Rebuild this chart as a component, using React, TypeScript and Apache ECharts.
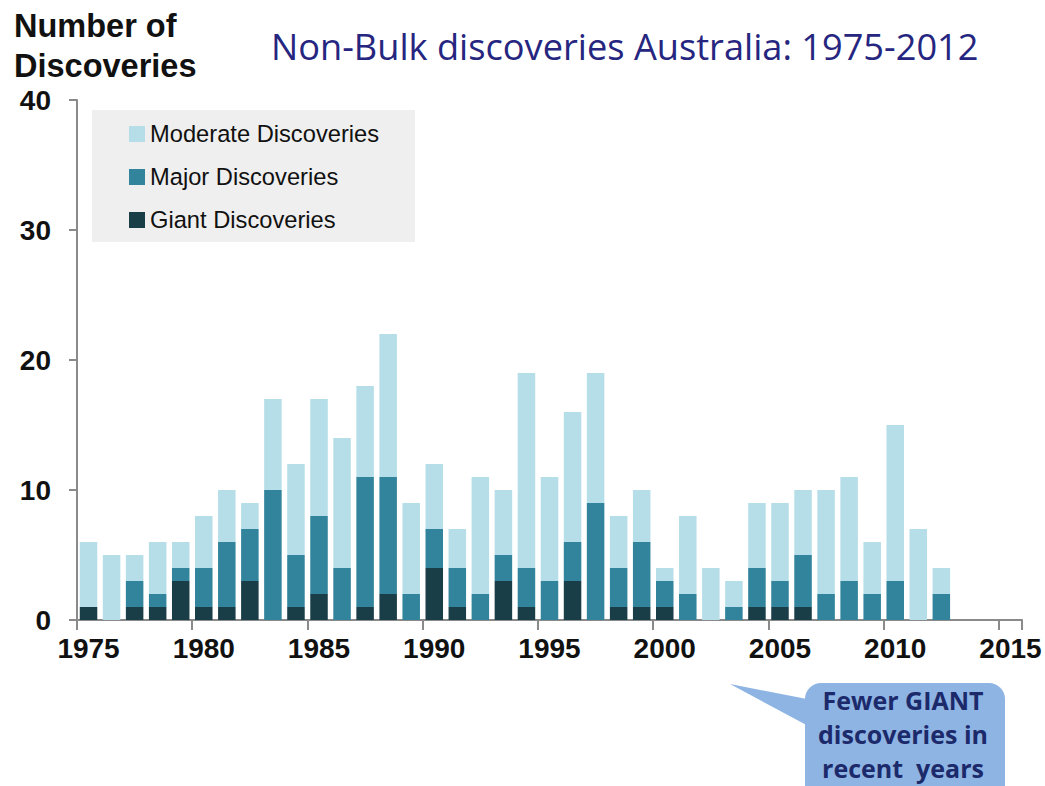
import React, { useEffect, useRef } from "react";
import * as echarts from "echarts";

const years = [
  "1975", "1976", "1977", "1978", "1979", "1980", "1981", "1982", "1983", "1984",
  "1985", "1986", "1987", "1988", "1989", "1990", "1991", "1992", "1993", "1994",
  "1995", "1996", "1997", "1998", "1999", "2000", "2001", "2002", "2003", "2004",
  "2005", "2006", "2007", "2008", "2009", "2010", "2011", "2012", "2013", "2014", "2015",
];
const giant = [1, 0, 1, 1, 3, 1, 1, 3, 0, 1, 2, 0, 1, 2, 0, 4, 1, 0, 3, 1, 0, 3, 0, 1, 1, 1, 0, 0, 0, 1, 1, 1, 0, 0, 0, 0, 0, 0];
const major = [0, 0, 2, 1, 1, 3, 5, 4, 10, 4, 6, 4, 10, 9, 2, 3, 3, 2, 2, 3, 3, 3, 9, 3, 5, 2, 2, 0, 1, 3, 2, 4, 2, 3, 2, 3, 0, 2];
const moderate = [5, 5, 2, 4, 2, 4, 4, 2, 7, 7, 9, 10, 7, 11, 7, 5, 3, 9, 5, 15, 8, 10, 10, 4, 4, 1, 6, 4, 2, 5, 6, 5, 8, 8, 4, 12, 7, 2];
const seriesNames = ["Moderate Discoveries", "Major Discoveries", "Giant Discoveries"];
const yTicks = { min: 0, max: 40, interval: 10 };
const title = "Non-Bulk discoveries Australia: 1975-2012";
const yTitle = "Number of\nDiscoveries";
const callout = "Fewer GIANT\ndiscoveries in\nrecent  years";

const C_MOD = "#B6DEE8";
const C_MAJ = "#31849B";
const C_GIANT = "#1A3E48";
const AXIS = "#8A8A8A";

export default function App() {
  const ref = useRef<HTMLDivElement>(null);
  useEffect(() => {
    if (!ref.current) return;
    const chart = echarts.init(ref.current, null, { renderer: "svg" });
    const font = "'Liberation Sans', Arial, sans-serif";
    chart.setOption({
      animation: false,
      backgroundColor: "#ffffff",
      grid: { left: 77, right: 23, top: 100, bottom: 166, containLabel: false },
      legend: {
        data: seriesNames,
        orient: "vertical",
        left: 92,
        top: 110,
        padding: [12, 36, 10, 37],
        backgroundColor: "#EFEFEF",
        itemWidth: 16,
        itemHeight: 16,
        itemGap: 19,
        icon: "rect",
        textStyle: { fontFamily: font, fontSize: 23.7, color: "#111", lineHeight: 24 },
        selectedMode: false,
      },
      xAxis: {
        type: "category",
        data: years,
        boundaryGap: true,
        axisLine: { lineStyle: { color: AXIS, width: 2 } },
        axisTick: { show: true, interval: 4, length: 10, alignWithLabel: false, lineStyle: { color: AXIS, width: 2 } },
        axisLabel: { interval: 4, margin: 14, fontFamily: font, fontWeight: "bold", fontSize: 28, color: "#111" },
      },
      yAxis: {
        type: "value",
        min: yTicks.min,
        max: yTicks.max,
        interval: yTicks.interval,
        splitLine: { show: false },
        axisLine: { show: true, lineStyle: { color: AXIS, width: 2 } },
        axisTick: { show: true, length: 8, lineStyle: { color: AXIS, width: 2 } },
        axisLabel: { margin: 26, fontFamily: font, fontWeight: "bold", fontSize: 28, color: "#111" },
      },
      series: [
        { name: seriesNames[2], type: "bar", stack: "d", data: giant, itemStyle: { color: C_GIANT }, barCategoryGap: "24%" },
        { name: seriesNames[1], type: "bar", stack: "d", data: major, itemStyle: { color: C_MAJ }, barCategoryGap: "24%" },
        { name: seriesNames[0], type: "bar", stack: "d", data: moderate, itemStyle: { color: C_MOD }, barCategoryGap: "24%" },
      ],
      graphic: [
        {
          type: "text",
          left: 14,
          top: 6,
          style: { text: yTitle, fontFamily: font, fontWeight: "bold", fontSize: 32.5, lineHeight: 40, fill: "#111" },
        },
        {
          type: "text",
          x: 271,
          y: 46,
          style: { text: title, fontFamily: "'Open Sans', sans-serif", fontSize: 36.2, fill: "#262680", verticalAlign: "middle", align: "left" },
        },
        {
          type: "polygon",
          shape: { points: [[730, 684], [812, 700], [812, 728]] },
          style: { fill: "#8EB4E3" },
        },
        {
          type: "rect",
          shape: { x: 805, y: 683, width: 200, height: 120, r: 16 },
          style: { fill: "#8EB4E3" },
        },
        {
          type: "text",
          x: 903,
          y: 734,
          style: {
            text: callout,
            fontFamily: "'Open Sans', sans-serif",
            fontWeight: "bold",
            fontSize: 25,
            lineHeight: 34,
            fill: "#1C2A6B",
            align: "center",
            verticalAlign: "middle",
          },
        },
      ],
    });
    return () => chart.dispose();
  }, []);
  return <div ref={ref} style={{ position: "fixed", left: 0, top: 0, width: 1045, height: 786 }} />;
}
